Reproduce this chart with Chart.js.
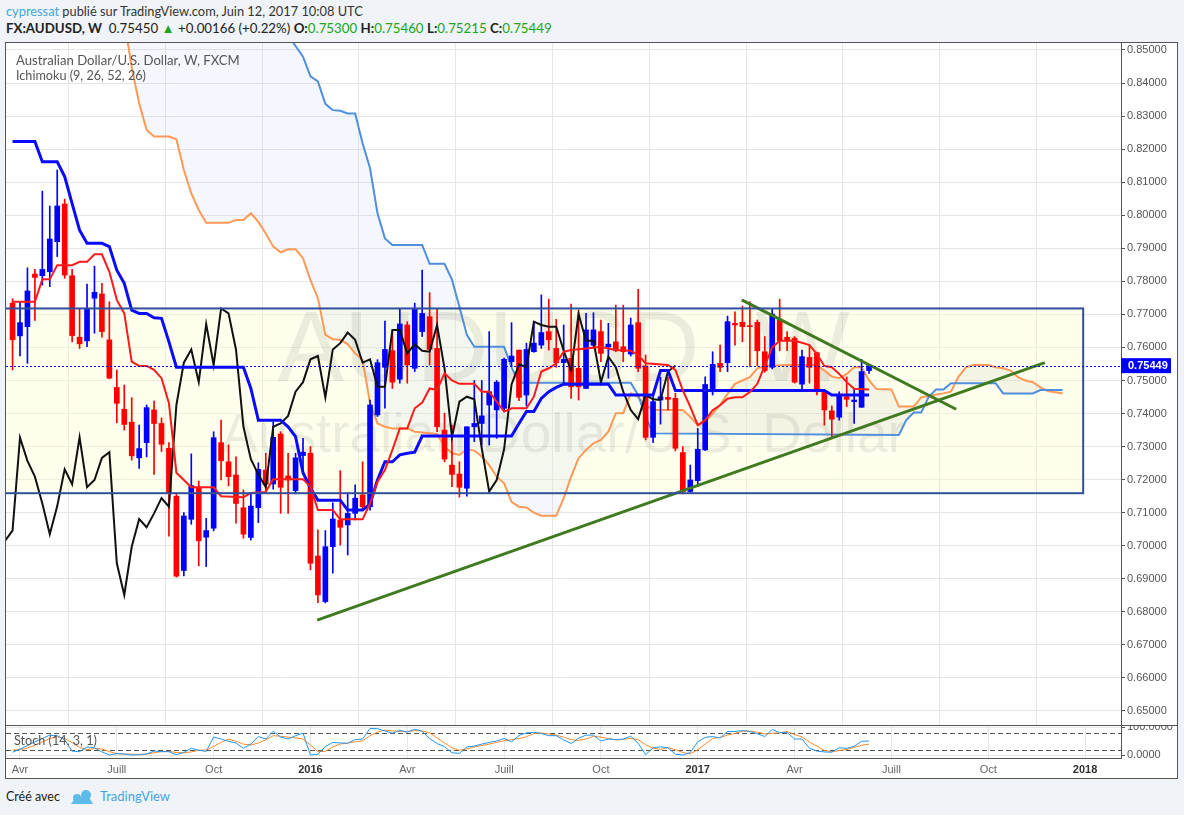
<!DOCTYPE html>
<html>
<head>
<meta charset="utf-8">
<script src="https://cdn.jsdelivr.net/npm/chart.js@4.4.1/dist/chart.umd.min.js"></script>
<style>
  body { margin: 0; width: 1184px; height: 815px; background: #f0f3f7; position: relative; overflow: hidden; font-family: Lato, "Liberation Sans", sans-serif; }
  .txt { position: absolute; white-space: nowrap; line-height: 1; }
  canvas { position: absolute; }
  #frame { position: absolute; left: 5px; top: 42px; width: 1171px; height: 735px; border: 1px solid #555; pointer-events: none; }
  #sep { position: absolute; left: 6px; top: 725px; width: 1171px; height: 1px; background: #555; }
  .g { color: #20a520; }
  .b { font-weight: bold; }
</style>
</head>
<body>
<div style="position:absolute;left:6px;top:43px;width:1171px;height:735px;background:#fff"></div>

<div class="txt" id="hdr1" style="left:6px;top:4px;font-size:13px;color:#333"><span style="color:#45a6dd">cypressat</span> publié sur TradingView.com, Juin 12, 2017 10:08 UTC</div>
<div class="txt" id="hdr2" style="left:6px;top:22px;font-size:13px;color:#222"><span class="b">FX:AUDUSD, W</span>&nbsp; 0.75450 <span class="g">▲</span> +0.00166 (+0.22%) <span class="b">O:</span><span class="g">0.75300</span> <span class="b">H:</span><span class="g">0.75460</span> <span class="b">L:</span><span class="g">0.75215</span> <span class="b">C:</span><span class="g">0.75449</span></div>

<canvas id="main" width="1171" height="683" style="left:6px;top:43px"></canvas>
<canvas id="stoch" width="1171" height="52" style="left:6px;top:726px"></canvas>
<div id="sep"></div>
<div id="frame"></div>

<div class="txt" id="leg1" style="left:16px;top:55px;font-size:13px;color:#555">Australian Dollar/U.S. Dollar, W, FXCM</div>
<div class="txt" id="leg2" style="left:16px;top:71px;font-size:13px;color:#555">Ichimoku (9, 26, 52, 26)</div>
<div class="txt" id="leg3" style="left:14px;top:736px;font-size:12px;color:#555">Stoch (14, 3, 1)</div>

<div class="txt" id="foot1" style="left:6px;top:791px;font-size:13px;color:#222">Créé avec</div>
<svg style="position:absolute;left:70px;top:789px" width="24" height="16" viewBox="0 0 24 16">
  <path d="M1 15 L8 5 L12 9 L16 3 L23 15 Z" fill="#5cbbe8"/>
  <circle cx="16" cy="6" r="5" fill="#5cbbe8"/>
  <circle cx="7" cy="9" r="4" fill="#5cbbe8"/>
</svg>
<div class="txt" id="foot2" style="left:100px;top:791px;font-size:13px;color:#45a6dd">TradingView</div>

<script>
// weekly candles, index 0 = week of 30 Mar 2015, index 115 = week of 12 Jun 2017
const openP = [0.7734,0.7635,0.7663,0.7822,0.7817,0.7829,0.7920,0.8034,0.7817,0.7631,
  0.7620,0.7749,0.7762,0.7623,0.7479,0.7413,0.7374,0.7266,0.7312,0.7411,
  0.7370,0.7295,0.7150,0.6925,0.7080,0.7177,0.7026,0.7053,0.7312,0.7254,
  0.7214,0.7115,0.7025,0.7115,0.7229,0.7187,0.7338,0.7211,0.7167,0.7273,
  0.7280,0.6969,0.6831,0.6997,0.7078,0.7063,0.7098,0.7154,0.7118,0.7396,
  0.7540,0.7590,0.7504,0.7668,0.7537,0.7648,0.7693,0.7597,0.7350,0.7244,
  0.7217,0.7174,0.7360,0.7370,0.7426,0.7411,0.7416,0.7557,0.7592,0.7456,
  0.7587,0.7607,0.7648,0.7597,0.7554,0.7567,0.7537,0.7476,0.7607,0.7648,
  0.7602,0.7617,0.7602,0.7580,0.7675,0.7544,0.7328,0.7441,0.7449,0.7446,
  0.7282,0.7164,0.7197,0.7290,0.7470,0.7552,0.7554,0.7673,0.7676,0.7665,
  0.7676,0.7587,0.7540,0.7683,0.7631,0.7628,0.7489,0.7570,0.7584,0.7466,
  0.7408,0.7389,0.7451,0.7436,0.7419,0.7530];
const highP = [0.7747,0.7738,0.7841,0.7836,0.8073,0.8028,0.8137,0.8049,0.7836,0.7718,
  0.7792,0.7846,0.7794,0.7738,0.7532,0.7486,0.7448,0.7365,0.7426,0.7438,
  0.7387,0.7312,0.7160,0.7100,0.7278,0.7196,0.7083,0.7345,0.7380,0.7305,
  0.7269,0.7169,0.7159,0.7251,0.7280,0.7375,0.7345,0.7280,0.7280,0.7325,
  0.7300,0.7048,0.7046,0.7130,0.7227,0.7159,0.7184,0.7254,0.7441,0.7563,
  0.7680,0.7646,0.7718,0.7678,0.7734,0.7834,0.7766,0.7718,0.7401,0.7365,
  0.7254,0.7360,0.7500,0.7500,0.7648,0.7500,0.7568,0.7675,0.7592,0.7613,
  0.7678,0.7759,0.7746,0.7685,0.7668,0.7731,0.7713,0.7703,0.7705,0.7683,
  0.7673,0.7728,0.7728,0.7689,0.7776,0.7577,0.7461,0.7510,0.7510,0.7461,
  0.7300,0.7244,0.7355,0.7511,0.7587,0.7607,0.7695,0.7708,0.7725,0.7738,
  0.7683,0.7633,0.7718,0.7746,0.7648,0.7633,0.7592,0.7607,0.7586,0.7466,
  0.7423,0.7466,0.7511,0.7474,0.7564,0.7546];
const lowP = [0.7532,0.7574,0.7552,0.7682,0.7789,0.7784,0.7875,0.7809,0.7617,0.7597,
  0.7602,0.7643,0.7631,0.7505,0.7372,0.7350,0.7259,0.7234,0.7269,0.7216,
  0.7285,0.7029,0.6905,0.6909,0.7065,0.6939,0.6937,0.7045,0.7199,0.7181,
  0.7068,0.7023,0.7017,0.7070,0.7159,0.7171,0.7098,0.7098,0.7157,0.7219,
  0.6927,0.6828,0.6827,0.6917,0.7002,0.6972,0.7078,0.7108,0.7108,0.7391,
  0.7416,0.7476,0.7492,0.7492,0.7527,0.7633,0.7547,0.7345,0.7254,0.7179,
  0.7147,0.7150,0.7315,0.7305,0.7305,0.7325,0.7405,0.7542,0.7439,0.7423,
  0.7586,0.7597,0.7592,0.7540,0.7492,0.7446,0.7441,0.7476,0.7597,0.7557,
  0.7507,0.7587,0.7557,0.7574,0.7527,0.7320,0.7312,0.7368,0.7411,0.7287,
  0.7157,0.7161,0.7179,0.7288,0.7456,0.7527,0.7527,0.7607,0.7617,0.7542,
  0.7544,0.7525,0.7535,0.7590,0.7590,0.7492,0.7471,0.7492,0.7456,0.7365,
  0.7328,0.7380,0.7421,0.7370,0.7419,0.75215];
const closeP = [0.7623,0.7675,0.7771,0.7812,0.7836,0.7928,0.8028,0.7819,0.7636,0.7611,
  0.7718,0.7767,0.7648,0.7507,0.7431,0.7367,0.7272,0.7294,0.7418,0.7370,
  0.7307,0.7160,0.6908,0.7090,0.7182,0.7015,0.7046,0.7327,0.7257,0.7209,
  0.7128,0.7035,0.7120,0.7231,0.7186,0.7328,0.7177,0.7199,0.7266,0.7283,
  0.6947,0.6851,0.6997,0.7081,0.7056,0.7098,0.7144,0.7118,0.7426,0.7554,
  0.7594,0.7495,0.7671,0.7547,0.7718,0.7703,0.7594,0.7360,0.7262,0.7216,
  0.7177,0.7360,0.7370,0.7393,0.7466,0.7495,0.7564,0.7574,0.7449,0.7594,
  0.7613,0.7645,0.7623,0.7554,0.7564,0.7481,0.7481,0.7653,0.7653,0.7582,
  0.7610,0.7590,0.7587,0.7668,0.7537,0.7328,0.7436,0.7451,0.7443,0.7295,
  0.7164,0.7199,0.7292,0.7488,0.7549,0.7540,0.7678,0.7668,0.7663,0.7663,
  0.7590,0.7530,0.7701,0.7620,0.7620,0.7495,0.7572,0.7540,0.7466,0.7411,
  0.7383,0.7456,0.7443,0.7441,0.7527,0.75449];

// ichimoku lines, read as [week index, price] vertices
const tenkan = [[0,0.7738],[3,0.7738],[4,0.7806],[5,0.7806],[6,0.7849],[8,0.7849],[9,0.7859],[10,0.7859],[11,0.7882],[12,0.7882],
  [13,0.7829],[14,0.7744],[15,0.7703],[16,0.7557],[17,0.7544],[18,0.7544],[19,0.7532],[20,0.7507],[21,0.7431],[22,0.7221],
  [23,0.7199],[24,0.7177],[27,0.7177],[28,0.7150],[31,0.7147],[32,0.7160],[34,0.7163],[35,0.7201],[39,0.7201],[40,0.7179],
  [41,0.7108],[43,0.7108],[44,0.7080],[47,0.7080],[48,0.7128],[49,0.7194],[50,0.7229],[51,0.7290],[52,0.7355],[53,0.7355],
  [54,0.7416],[55,0.7433],[56,0.7476],[57,0.7471],[58,0.7522],[59,0.7500],[60,0.7490],[62,0.7490],[63,0.7466],[64,0.7466],
  [65,0.7436],[66,0.7406],[67,0.7416],[69,0.7416],[70,0.7451],[71,0.7527],[72,0.7537],[73,0.7552],[74,0.7587],[75,0.7592],
  [77,0.7597],[79,0.7602],[80,0.7597],[81,0.7592],[83,0.7590],[84,0.7577],[85,0.7552],[88,0.7547],[89,0.7532],[90,0.7470],
  [91,0.7420],[92,0.7365],[93,0.7380],[94,0.7410],[95,0.7425],[96,0.7445],[97,0.7449],[98,0.7449],[99,0.7465],[100,0.7490],
  [101,0.7545],[102,0.7600],[103,0.7620],[105,0.7620],[106,0.7614],[107,0.7607],[108,0.7580],[109,0.7544],[110,0.7540],[111,0.7520],
  [112,0.7495],[113,0.7475],[115,0.7473]];
const kijun = [[0,0.8223],[3,0.8223],[4,0.8162],[6,0.8162],[7,0.8117],[8,0.8035],[9,0.7955],[10,0.7915],[12,0.7915],[13,0.7905],
  [14,0.7834],[15,0.7794],[16,0.7713],[17,0.7703],[18,0.7703],[19,0.7690],[20,0.7688],[21,0.7617],[22,0.7540],[31,0.7540],
  [32,0.7476],[33,0.7380],[36,0.7380],[37,0.7360],[38,0.7330],[39,0.7221],[40,0.7174],[41,0.7138],[44,0.7138],[45,0.7108],
  [47,0.7108],[48,0.7126],[49,0.7199],[50,0.7254],[51,0.7254],[52,0.7275],[53,0.7280],[54,0.7283],[55,0.7332],[67,0.7332],
  [68,0.7370],[69,0.7406],[70,0.7406],[71,0.7446],[72,0.7466],[73,0.7479],[74,0.7489],[80,0.7489],[81,0.7456],[86,0.7456],
  [87,0.7530],[88,0.7530],[89,0.7470],[109,0.7470],[110,0.7456],[115,0.7456]];
const spanA = [[-1,0.875],[14,0.868],[15,0.8590],[16,0.8447],[17,0.8339],[18,0.8258],[19,0.8238],[21,0.8238],[22,0.8230],[23,0.8137],
  [24,0.8066],[25,0.8016],[26,0.7977],[29,0.7977],[30,0.7986],[31,0.7986],[32,0.8006],[33,0.7980],[34,0.7945],[35,0.7905],
  [36,0.7888],[37,0.7897],[38,0.7897],[39,0.7870],[40,0.7804],[41,0.7749],[42,0.7638],[43,0.7625],[44,0.7623],[45,0.7610],
  [46,0.7582],[47,0.7562],[48,0.7431],[49,0.7370],[50,0.7360],[51,0.7355],[53,0.7355],[54,0.7345],[57,0.7338],[58,0.7300],
  [59,0.7280],[60,0.7275],[61,0.7292],[62,0.7288],[63,0.7270],[64,0.7244],[65,0.7209],[66,0.7189],[67,0.7133],[68,0.7118],
  [69,0.7116],[70,0.7100],[71,0.7091],[73,0.7091],[74,0.7144],[75,0.7209],[76,0.7265],[77,0.7290],[78,0.7310],[79,0.7320],
  [80,0.7345],[81,0.7401],[82,0.7401],[83,0.7461],[84,0.7450],[85,0.7425],[86,0.7411],[90,0.7411],[91,0.7390],[92,0.7365],
  [93,0.7375],[94,0.7400],[95,0.7426],[96,0.7460],[97,0.7490],[98,0.7500],[99,0.7510],[100,0.7537],[101,0.7544],[104,0.7547],
  [108,0.7547],[109,0.7530],[110,0.7512],[111,0.7507],[112,0.7520],[113,0.7540],[114,0.7540],[115,0.7500],[116,0.7474],[118,0.7473],
  [119,0.7421],[121,0.7421],[122,0.7449],[123,0.7453],[125,0.7461],[126,0.7466],[127,0.7511],[128,0.7540],[129,0.7547],[131,0.7547],
  [132,0.7540],[133,0.7537],[134,0.7530],[135,0.7510],[136,0.7500],[137,0.7495],[138,0.7479],[139,0.7468],[141,0.7461]];
const spanB = [[-1,0.900],[36,0.900],[37,0.8545],[38,0.8512],[39,0.8480],[40,0.8420],[41,0.8405],[42,0.8337],[43,0.8318],[44,0.8316],
  [45,0.8308],[46,0.8308],[47,0.8218],[48,0.8142],[49,0.8006],[50,0.7930],[51,0.7910],[55,0.7910],[56,0.7853],[58,0.7853],
  [59,0.7805],[60,0.7723],[61,0.7638],[62,0.7602],[66,0.7602],[67,0.7540],[68,0.7493],[83,0.7493],[84,0.7456],[85,0.7390],
  [86,0.7340],[119,0.7335],[120,0.7380],[121,0.7403],[122,0.7403],[123,0.7450],[124,0.7473],[125,0.7473],[126,0.7492],[132,0.7492],
  [133,0.7461],[137,0.7461],[138,0.7471],[141,0.7471]];
// lagging span, first value sits at week index -1
const chikouStart = -1;
const chikou = [0.7015,0.7046,0.7327,0.7257,0.7209,0.7128,0.7035,0.7120,0.7231,0.7186,0.7328,0.7177,0.7199,0.7266,0.7283,
  0.6947,0.6851,0.6997,0.7081,0.7056,0.7098,0.7144,0.7118,0.7426,0.7554,0.7594,0.7495,0.7671,0.7547,0.7718,0.7703,0.7594,
  0.7360,0.7262,0.7216,0.7177,0.7360,0.7370,0.7393,0.7466,0.7495,0.7564,0.7574,0.7449,0.7594,0.7613,0.7645,0.7623,0.7554,
  0.7564,0.7481,0.7481,0.7653,0.7653,0.7582,0.7610,0.7590,0.7587,0.7668,0.7537,0.7328,0.7436,0.7451,0.7443,0.7295,0.7164,
  0.7199,0.7292,0.7488,0.7549,0.7540,0.7678,0.7668,0.7663,0.7663,0.7590,0.7530,0.7701,0.7620,0.7620,0.7495,0.7572,0.7540,
  0.7466,0.7411,0.7383,0.7456,0.7443,0.7441,0.7527,0.75449];

// stochastic %K and %D
const stochK = [11,22,35,48,60,72,70,55,15,13,30,27,12,1,6,5,1,2,5,15,13,13,2,10,25,18,14,65,58,50,
  44,25,40,67,58,86,65,58,70,79,1,4,31,46,44,43,56,58,96,95,87,79,89,83,93,86,60,42,31,9,
  7,30,33,40,46,51,60,48,71,80,82,78,70,70,55,42,61,72,72,51,58,56,58,68,43,2,27,30,27,4,
  1,10,48,64,67,62,85,85,88,85,77,67,92,81,82,58,58,25,15,12,11,27,25,32,50,51];
const stochD = [19,20,26,35,48,60,66,60,45,28,20,24,23,13,6,4,4,3,4,9,13,14,10,9,12,18,19,32,46,58,
  50,40,37,44,55,70,68,65,62,58,37,13,14,30,40,44,48,52,70,83,90,87,85,84,88,87,80,62,44,27,
  18,23,30,35,40,46,52,56,60,66,78,80,76,72,65,56,53,58,68,65,60,55,57,60,56,38,25,21,28,20,
  10,5,20,40,60,64,72,78,86,86,83,76,79,80,85,74,66,47,33,17,13,17,21,28,36,40];

// drawings
const trendUp = [[40.9, 0.6775], [138.6, 0.7554]];
const trendDown = [[97.9, 0.7744], [126.7, 0.7413]];
const boxTop = 0.7718, boxBottom = 0.7159, boxStart = -5, boxEnd = 143.75;
const lastPrice = 0.75449;

// axes
const monthTicks = [1, 14, 27, 40, 53, 66, 79, 92, 105, 118, 131, 144];
const monthLabels = ['Avr', 'Juill', 'Oct', '2016', 'Avr', 'Juill', 'Oct', '2017', 'Avr', 'Juill', 'Oct', '2018'];
const priceTicks = [0.65,0.66,0.67,0.68,0.69,0.70,0.71,0.72,0.73,0.74,0.75,0.76,0.77,0.78,0.79,0.80,0.81,0.82,0.83,0.84,0.85];
const stochTicks = [0, 100];

const X_MIN = -0.879, X_MAX = 148.83;
const AXIS_FONT = '"Liberation Sans", Arial, sans-serif';
const UP = '#0000ff', DOWN = '#ff0000';

const toXY = pts => pts.map(p => ({ x: p[0], y: p[1] }));
const candleColor = ctx => closeP[ctx.dataIndex] >= openP[ctx.dataIndex] ? UP : DOWN;
const isYear = ctx => !!(ctx.tick && /^\d{4}$/.test(ctx.tick.label));

const overlayPlugin = {
    id: 'overlay',
    beforeDatasetsDraw(chart) {
        const { ctx, chartArea: a, scales: { x, y } } = chart;
        ctx.save();
        ctx.beginPath();
        ctx.rect(a.left, a.top, a.right - a.left, a.bottom - a.top);
        ctx.clip();
        const bx1 = x.getPixelForValue(boxStart), bx2 = x.getPixelForValue(boxEnd);
        const by1 = y.getPixelForValue(boxTop), by2 = y.getPixelForValue(boxBottom);
        ctx.fillStyle = 'rgba(255,255,200,0.32)';
        ctx.fillRect(bx1, by1, bx2 - bx1, by2 - by1);
        // watermark
        const cx = (a.left + a.right) / 2;
        ctx.fillStyle = 'rgba(0,0,0,0.075)';
        ctx.textAlign = 'center';
        ctx.textBaseline = 'middle';
        ctx.font = '100px ' + AXIS_FONT;
        ctx.fillText('AUDUSD, W', cx, a.top + 310);
        ctx.font = '55px ' + AXIS_FONT;
        ctx.fillText('Australian Dollar/U.S. Dollar', cx, a.top + 394);
        ctx.restore();
    },
    afterDatasetsDraw(chart) {
        const { ctx, chartArea: a, scales: { x, y } } = chart;
        ctx.save();
        ctx.beginPath();
        ctx.rect(a.left, a.top, a.right - a.left, a.bottom - a.top);
        ctx.clip();
        const bx1 = x.getPixelForValue(boxStart), bx2 = x.getPixelForValue(boxEnd);
        const by1 = y.getPixelForValue(boxTop), by2 = y.getPixelForValue(boxBottom);
        ctx.strokeStyle = '#2f4f9c';
        ctx.lineWidth = 2;
        ctx.strokeRect(bx1, by1, bx2 - bx1, by2 - by1);
        // last price line
        const py = Math.round(y.getPixelForValue(lastPrice)) + 0.5;
        ctx.strokeStyle = '#0000ff';
        ctx.lineWidth = 1;
        ctx.setLineDash([2, 2]);
        ctx.beginPath();
        ctx.moveTo(a.left, py);
        ctx.lineTo(a.right, py);
        ctx.stroke();
        ctx.restore();
    },
    afterDraw(chart) {
        const { ctx, chartArea: a, scales: { y } } = chart;
        const py = y.getPixelForValue(lastPrice);
        ctx.save();
        ctx.fillStyle = '#0000ff';
        ctx.fillRect(a.right, py - 7.5, 50, 15);
        ctx.fillStyle = '#fff';
        ctx.font = 'bold 11px ' + AXIS_FONT;
        ctx.textBaseline = 'middle';
        ctx.textAlign = 'left';
        ctx.fillText(lastPrice.toFixed(5), a.right + 7, py + 0.5);
        ctx.restore();
    }
};

const lineDs = (data, color, width, order, extra) => Object.assign({
    type: 'line', data: data, borderColor: color, borderWidth: width,
    pointRadius: 0, tension: 0, order: order
}, extra || {});

new Chart(document.getElementById('main'), {
    type: 'bar',
    data: {
        datasets: [
            lineDs(toXY(trendUp), '#3f7a1f', 3, 0),
            lineDs(toXY(trendDown), '#3f7a1f', 3, 0),
            lineDs(toXY(tenkan), '#ff1a1a', 2, 1),
            lineDs(toXY(kijun), '#0a0aff', 3, 1),
            lineDs(chikou.map((v, j) => ({ x: j + chikouStart, y: v })), '#111111', 2, 1),
            {
                type: 'bar', order: 2, grouped: false, barThickness: 1,
                data: lowP.map((v, i) => ({ x: i, y: [v, highP[i]] })),
                backgroundColor: candleColor
            },
            {
                type: 'bar', order: 2, grouped: false, barThickness: 5, minBarLength: 1,
                data: openP.map((v, i) => ({ x: i, y: [v, closeP[i]] })),
                backgroundColor: candleColor
            },
            lineDs(toXY(spanB), '#4f8fdc', 2, 3),
            lineDs(toXY(spanA), '#ff9955', 2, 3, {
                fill: { target: 7, above: 'rgba(150,150,150,0.10)', below: 'rgba(110,150,230,0.08)' }
            })
        ]
    },
    options: {
        responsive: false,
        animation: false,
        events: [],
        layout: { padding: 0 },
        plugins: { legend: { display: false }, tooltip: { enabled: false } },
        scales: {
            x: {
                type: 'linear', min: X_MIN, max: X_MAX, offset: false,
                grid: { color: '#e6e6e6', drawTicks: false },
                border: { display: false },
                ticks: { display: false },
                afterBuildTicks: s => { s.ticks = monthTicks.map(v => ({ value: v })); },
                afterFit: s => { s.height = 0; s.paddingLeft = 0; s.paddingRight = 0; }
            },
            y: {
                position: 'right', min: 0.645461, max: 0.852118,
                grid: { color: '#e6e6e6', tickLength: 4, tickColor: '#555' },
                border: { color: '#555' },
                ticks: { color: '#555', padding: 2, font: { size: 11, family: AXIS_FONT }, callback: v => v.toFixed(5) },
                afterBuildTicks: s => { s.ticks = priceTicks.map(v => ({ value: v })); },
                afterFit: s => { s.width = 56; s.paddingTop = 0; s.paddingBottom = 0; }
            }
        }
    },
    plugins: [overlayPlugin]
});

const stochLevels = {
    id: 'levels',
    beforeDatasetsDraw(chart) {
        const { ctx, chartArea: a, scales: { y } } = chart;
        ctx.save();
        ctx.strokeStyle = '#555';
        ctx.lineWidth = 1;
        ctx.setLineDash([5, 3]);
        [80, 20].forEach(v => {
            const py = Math.round(y.getPixelForValue(v)) + 0.5;
            ctx.beginPath();
            ctx.moveTo(a.left, py);
            ctx.lineTo(a.right, py);
            ctx.stroke();
        });
        ctx.restore();
    }
};

new Chart(document.getElementById('stoch'), {
    type: 'line',
    data: {
        datasets: [
            lineDs(stochK.map((v, i) => ({ x: i, y: v })), '#2196f3', 1, 0),
            lineDs(stochD.map((v, i) => ({ x: i, y: v })), '#ff8a2b', 1, 1)
        ]
    },
    options: {
        responsive: false,
        animation: false,
        events: [],
        layout: { padding: 0 },
        plugins: { legend: { display: false }, tooltip: { enabled: false } },
        scales: {
            x: {
                type: 'linear', min: X_MIN, max: X_MAX, offset: false,
                grid: { color: '#e6e6e6', drawTicks: false },
                border: { display: true, color: '#555' },
                ticks: {
                    autoSkip: false, maxRotation: 0, padding: 5,
                    color: ctx => isYear(ctx) ? '#333' : '#666',
                    font: ctx => ({ size: 11, family: AXIS_FONT, weight: isYear(ctx) ? 'bold' : 'normal' }),
                    callback: v => monthLabels[monthTicks.indexOf(v)]
                },
                afterBuildTicks: s => { s.ticks = monthTicks.map(v => ({ value: v })); },
                afterFit: s => { s.height = 19.5; s.paddingLeft = 0; s.paddingRight = 0; }
            },
            y: {
                position: 'right', min: -11.4, max: 104.6,
                grid: { color: '#e6e6e6', tickLength: 4, tickColor: '#555' },
                border: { color: '#555' },
                ticks: { color: '#555', padding: 2, font: { size: 11, family: AXIS_FONT }, callback: v => v.toFixed(4) },
                afterBuildTicks: s => { s.ticks = stochTicks.map(v => ({ value: v })); },
                afterFit: s => { s.width = 56; s.paddingTop = 0; s.paddingBottom = 0; }
            }
        }
    },
    plugins: [stochLevels]
});

// size the html labels to the widths seen in the reference
function fitText(id, width, centerY) {
    const el = document.getElementById(id);
    const fs = parseFloat(el.style.fontSize);
    const w = el.getBoundingClientRect().width;
    const nfs = fs * width / w;
    el.style.fontSize = nfs.toFixed(2) + 'px';
    el.style.top = (centerY - nfs * 0.55).toFixed(1) + 'px';
}
fitText('hdr1', 357, 12);
fitText('hdr2', 546, 29);
fitText('leg1', 224, 61);
fitText('leg2', 130, 76.5);
fitText('leg3', 83, 742);
fitText('foot1', 54, 797.5);
fitText('foot2', 70, 797.5);
</script>
</body>
</html>
